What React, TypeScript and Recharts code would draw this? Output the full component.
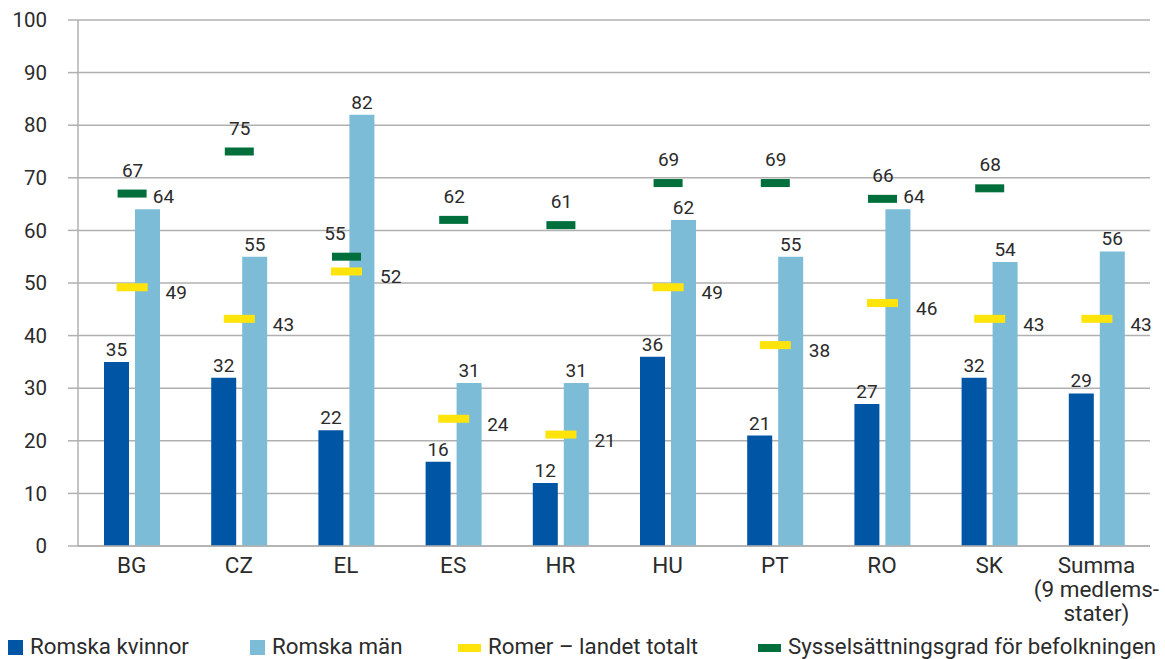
import { Bar, ComposedChart, CartesianGrid, LabelList, Scatter, XAxis, YAxis } from "recharts"

const categories = ["BG", "CZ", "EL", "ES", "HR", "HU", "PT", "RO", "SK", "Summa\n(9 medlems-\nstater)"]
const romskaKvinnor = [35, 32, 22, 16, 12, 36, 21, 27, 32, 29]
const romskaMan = [64, 55, 82, 31, 31, 62, 55, 64, 54, 56]
const romerTotalt = [49, 43, 52, 24, 21, 49, 38, 46, 43, 43]
const befolkningen: (number | null)[] = [67, 75, 55, 62, 61, 69, 69, 66, 68, null]
const yTicks = [0, 10, 20, 30, 40, 50, 60, 70, 80, 90, 100]

const data = categories.map((name, i) => ({
  name,
  kvinnor: romskaKvinnor[i],
  man: romskaMan[i],
  totalt: romerTotalt[i],
  befolkning: befolkningen[i],
}))

const DARK = "#0055a4"
const LIGHT = "#7cbcd7"
const YELLOW = "#ffe40c"
const GREEN = "#006f3b"
const TEXT = "#2b2b2b"
const GRID = "#b0b0b0"
const FONT = "Roboto"

function CategoryTick(props: any) {
  const { x, y, payload } = props
  const lines = String(payload.value).split("\n")
  return (
    <text x={x} y={y + 19} textAnchor="middle" fill={TEXT} fontSize={22.5} fontFamily={FONT}>
      {lines.map((l, i) => (
        <tspan key={i} x={x} dy={i === 0 ? 0 : 24}>
          {l}
        </tspan>
      ))}
    </text>
  )
}

function KvinnorLabel(props: any) {
  const { x, y, width, value } = props
  return (
    <text x={x + width / 2} y={y - 6} textAnchor="middle" fill={TEXT} fontSize={19} fontFamily={FONT}>
      {value}
    </text>
  )
}

function ManLabel(props: any) {
  const { x, y, width, value, index } = props
  const g = befolkningen[index]
  const dx = g != null && g - value >= 0 && g - value < 5 ? 16 : 0
  return (
    <text x={x + width / 2 + dx} y={y - 6} textAnchor="middle" fill={TEXT} fontSize={19} fontFamily={FONT}>
      {value}
    </text>
  )
}

function YellowMark(props: any) {
  const { cx, cy, payload } = props
  if (payload.totalt == null || cy == null || isNaN(cy)) return <g />
  return (
    <g>
      <rect x={cx - 15} y={cy - 5} width={31} height={8} fill={YELLOW} />
      <text x={cx + 34} y={cy + 11} fill={TEXT} fontSize={19} fontFamily={FONT}>
        {payload.totalt}
      </text>
    </g>
  )
}

function GreenMark(props: any) {
  const { cx, cy, payload } = props
  if (payload.befolkning == null || cy == null || isNaN(cy)) return <g />
  const dx = payload.befolkning < payload.man ? -12 : 0
  return (
    <g>
      <rect x={cx - 14} y={cy - 4} width={29} height={8} fill={GREEN} />
      <text x={cx + 1 + dx} y={cy - 17} textAnchor="middle" fill={TEXT} fontSize={19} fontFamily={FONT}>
        {payload.befolkning}
      </text>
    </g>
  )
}

const legendItems = [
  { label: "Romska kvinnor", color: DARK, left: 8, kind: "box" },
  { label: "Romska män", color: LIGHT, left: 250, kind: "box" },
  { label: "Romer – landet totalt", color: YELLOW, left: 458, kind: "line" },
  { label: "Sysselsättningsgrad för befolkningen", color: GREEN, left: 758, kind: "line" },
]

export default function App() {
  return (
    <div style={{ position: "absolute", left: 0, top: 0, width: 1165, height: 659, background: "#fff", fontFamily: FONT }}>
      <ComposedChart
        width={1165}
        height={659}
        data={data}
        margin={{ top: 20, right: 15, left: 0, bottom: 43 }}
        barSize={25}
        barGap={6}
      >
        <CartesianGrid vertical={false} stroke={GRID} strokeWidth={1.5} />
        <XAxis
          dataKey="name"
          type="category"
          height={70}
          tickLine={false}
          axisLine={{ stroke: GRID, strokeWidth: 1.5 }}
          tick={<CategoryTick />}
          interval={0}
        />
        <YAxis
          width={78}
          domain={[0, 100]}
          ticks={yTicks}
          interval={0}
          tickSize={10}
          tickMargin={21}
          tickLine={{ stroke: GRID, strokeWidth: 1.5 }}
          axisLine={{ stroke: GRID, strokeWidth: 1.5 }}
          tick={{ fill: TEXT, fontSize: 20.5, fontFamily: FONT }}
        />
        <Bar dataKey="kvinnor" fill={DARK} isAnimationActive={false}>
          <LabelList dataKey="kvinnor" content={<KvinnorLabel />} />
        </Bar>
        <Bar dataKey="man" fill={LIGHT} isAnimationActive={false}>
          <LabelList dataKey="man" content={<ManLabel />} />
        </Bar>
        <Scatter dataKey="totalt" shape={<YellowMark />} isAnimationActive={false} />
        <Scatter dataKey="befolkning" shape={<GreenMark />} isAnimationActive={false} />
      </ComposedChart>
      {legendItems.map((it) => (
        <div
          key={it.label}
          style={{ position: "absolute", left: it.left, top: 632, height: 27, display: "flex", alignItems: "center", fontSize: 22.3, color: TEXT, whiteSpace: "nowrap" }}
        >
          <span
            style={{
              display: "inline-block",
              width: it.kind === "box" ? 15 : 23,
              height: it.kind === "box" ? 15 : 8,
              background: it.color,
              marginRight: 7,
              marginTop: 4,
            }}
          />
          {it.label}
        </div>
      ))}
    </div>
  )
}
